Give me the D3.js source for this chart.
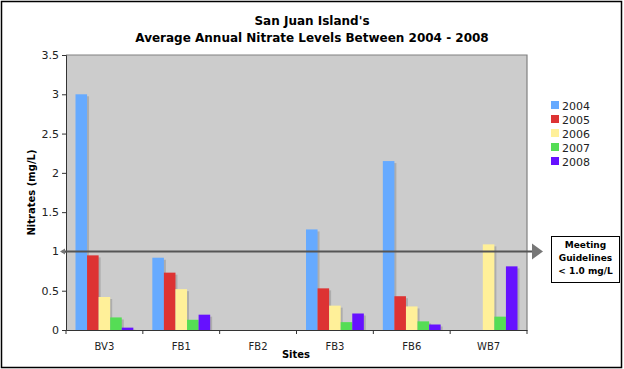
<!DOCTYPE html>
<html>
<head>
<meta charset="utf-8">
<script src="https://cdn.jsdelivr.net/npm/d3@7"></script>
<style>
  body { margin: 0; background: #fff; }
  svg text { font-family: "DejaVu Sans", Verdana, sans-serif; }
</style>
</head>
<body>
<div id="chart"></div>
<script>
// chart data
var sites = ["BV3", "FB1", "FB2", "FB3", "FB6", "WB7"];
var years = ["2004", "2005", "2006", "2007", "2008"];
var colors = ["#66aaff", "#dd3333", "#fff099", "#55dd55", "#6611ff"];
// null = no sample that year
var v2004 = [3.0, 0.92, null, 1.28, 2.15, null];
var v2005 = [0.95, 0.73, null, 0.53, 0.43, null];
var v2006 = [0.42, 0.52, null, 0.31, 0.30, 1.09];
var v2007 = [0.16, 0.13, null, 0.10, 0.11, 0.17];
var v2008 = [0.03, 0.195, null, 0.21, 0.07, 0.81];
var yTicks = [0, 0.5, 1, 1.5, 2, 2.5, 3, 3.5];
var guideline = 1.0;

var series = [v2004, v2005, v2006, v2007, v2008];

var width = 624, height = 369;
var plotLeft = 66, plotRight = 527, plotTop = 55, plotBottom = 330;

var svg = d3.select("#chart").append("svg")
  .attr("width", width)
  .attr("height", height);

// outer frame
svg.append("rect")
  .attr("x", 1.5).attr("y", 1.5)
  .attr("width", 620).attr("height", 366)
  .attr("fill", "#fff")
  .attr("stroke", "#000")
  .attr("stroke-width", 1.5);

// title
svg.append("text")
  .attr("x", 312).attr("y", 25)
  .attr("text-anchor", "middle")
  .attr("font-size", 12).attr("font-weight", "bold")
  .text("San Juan Island's");
svg.append("text")
  .attr("x", 312).attr("y", 42)
  .attr("text-anchor", "middle")
  .attr("font-size", 12).attr("font-weight", "bold")
  .text("Average Annual Nitrate Levels Between 2004 - 2008");

var xScale = d3.scaleBand()
  .domain(sites)
  .range([plotLeft, plotRight]);

var xInner = d3.scaleBand()
  .domain(years)
  .range([9.5, xScale.bandwidth() - 9.5]);

var yScale = d3.scaleLinear()
  .domain([0, 3.5])
  .range([plotBottom, plotTop]);

// plot background
svg.append("rect")
  .attr("x", plotLeft).attr("y", plotTop)
  .attr("width", plotRight - plotLeft).attr("height", plotBottom - plotTop)
  .attr("fill", "#cccccc");
svg.append("path")
  .attr("d", "M" + plotLeft + "," + plotTop + "H" + plotRight + "V" + plotBottom)
  .attr("fill", "none")
  .attr("stroke", "#808080")
  .attr("stroke-width", 1.2);

// bars
var groups = svg.selectAll("g.site")
  .data(sites)
  .enter().append("g")
  .attr("class", "site")
  .attr("transform", function(d) { return "translate(" + xScale(d) + ",0)"; });

groups.each(function(site, si) {
  var g = d3.select(this);
  var vals = series.map(function(s, yi) { return { year: years[yi], v: s[si], c: colors[yi] }; })
    .filter(function(d) { return d.v !== null; });

  // soft shadow
  g.selectAll("rect.shadow")
    .data(vals)
    .enter().append("rect")
    .attr("class", "shadow")
    .attr("x", function(d) { return xInner(d.year) + 2; })
    .attr("y", function(d) { return yScale(d.v) + 2; })
    .attr("width", xInner.bandwidth())
    .attr("height", function(d) { return plotBottom - yScale(d.v) - 2; })
    .attr("fill", "rgba(0,0,0,0.15)");

  g.selectAll("rect.bar")
    .data(vals)
    .enter().append("rect")
    .attr("class", "bar")
    .attr("x", function(d) { return xInner(d.year); })
    .attr("y", function(d) { return yScale(d.v); })
    .attr("width", xInner.bandwidth())
    .attr("height", function(d) { return plotBottom - yScale(d.v); })
    .attr("fill", function(d) { return d.c; });
});

// axes
var yAxis = d3.axisLeft(yScale)
  .tickValues(yTicks)
  .tickSize(4)
  .tickFormat(function(d) { return d; });
var yG = svg.append("g")
  .attr("transform", "translate(" + plotLeft + ",0)")
  .call(yAxis);
yG.selectAll("text").attr("font-size", 11).attr("fill", "#222")
  .attr("font-family", "DejaVu Sans, sans-serif");
yG.selectAll("line,path").attr("stroke", "#333");

var xAxis = d3.axisBottom(xScale).tickSize(4).tickSizeOuter(0);
var xG = svg.append("g")
  .attr("transform", "translate(0," + plotBottom + ")")
  .call(xAxis);
xG.selectAll(".tick line").remove();
xG.selectAll("text").attr("font-size", 10).attr("fill", "#222").attr("dy", "1.3em")
  .attr("font-family", "DejaVu Sans, sans-serif");
xG.select("path").attr("stroke", "#333");
// boundary ticks between sites
xG.selectAll("line.sep")
  .data(d3.range(sites.length + 1))
  .enter().append("line")
  .attr("class", "sep")
  .attr("x1", function(i) { return plotLeft + i * xScale.bandwidth(); })
  .attr("x2", function(i) { return plotLeft + i * xScale.bandwidth(); })
  .attr("y1", 0).attr("y2", 4)
  .attr("stroke", "#333");

// axis titles
svg.append("text")
  .attr("transform", "translate(35," + ((plotTop + plotBottom) / 2) + ") rotate(-90)")
  .attr("text-anchor", "middle")
  .attr("font-size", 10).attr("font-weight", "bold")
  .text("Nitrates (mg/L)");
svg.append("text")
  .attr("x", 296).attr("y", 358)
  .attr("text-anchor", "middle")
  .attr("font-size", 10).attr("font-weight", "bold")
  .text("Sites");

// guideline arrow
var gy = yScale(guideline);
svg.append("line")
  .attr("x1", 62).attr("x2", 532)
  .attr("y1", gy).attr("y2", gy)
  .attr("stroke", "#555").attr("stroke-width", 2);
svg.append("path")
  .attr("d", "M532," + (gy - 8) + "L543," + gy + "L532," + (gy + 8) + "Z")
  .attr("fill", "#777");
svg.append("path")
  .attr("d", "M65," + (gy - 3) + "L60," + gy + "L65," + (gy + 3) + "Z")
  .attr("fill", "#777");

// guideline note
svg.append("rect")
  .attr("x", 551.5).attr("y", 236.5)
  .attr("width", 68).attr("height", 46)
  .attr("fill", "#fff").attr("stroke", "#000");
["Meeting", "Guidelines", "< 1.0 mg/L"].forEach(function(t, i) {
  svg.append("text")
    .attr("x", 585.5).attr("y", 248 + i * 13)
    .attr("text-anchor", "middle")
    .attr("font-size", 9).attr("font-weight", "bold")
    .text(t);
});

// legend
var legend = svg.selectAll("g.legend")
  .data(years)
  .enter().append("g")
  .attr("class", "legend")
  .attr("transform", function(d, i) { return "translate(551," + (101 + i * 14) + ")"; });
legend.append("rect")
  .attr("width", 8).attr("height", 8)
  .attr("fill", function(d, i) { return colors[i]; });
legend.append("text")
  .attr("x", 11).attr("y", 8.5)
  .attr("font-size", 11).attr("fill", "#222")
  .text(function(d) { return d; });
</script>
</body>
</html>
